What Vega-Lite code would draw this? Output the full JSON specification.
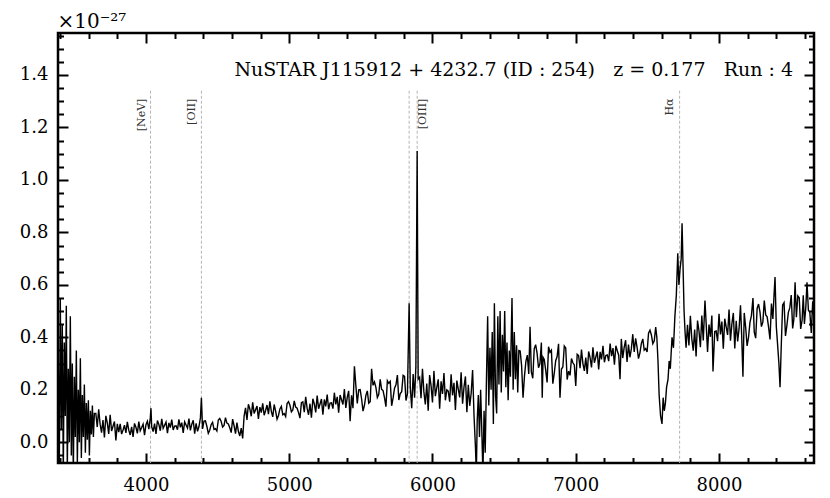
{
  "$schema": "https://vega.github.io/schema/vega-lite/v6.json",
  "autosize": {"type": "none"},
  "padding": {"left": 58, "top": 33, "right": 16, "bottom": 35},
  "width": 756,
  "height": 430,
  "config": {
    "view": {"stroke": "black", "strokeWidth": 2.5},
    "font": "DejaVu Serif"
  },
  "title": {
    "text": "NuSTAR J115912 + 4232.7 (ID : 254)\u00a0\u00a0\u00a0z = 0.177\u00a0\u00a0\u00a0Run : 4",
    "anchor": "end",
    "frame": "group",
    "orient": "top",
    "baseline": "alphabetic",
    "offset": 0,
    "dx": -21,
    "dy": 84,
    "font": "DejaVu Serif",
    "fontSize": 19,
    "fontWeight": "normal",
    "color": "black"
  },
  "datasets": {
    "spec": [
      {"w":3388,"f":0.30},{"w":3395,"f":-0.10},{"w":3402,"f":0.55},{"w":3409,"f":0.05},{"w":3416,"f":0.45},{"w":3423,"f":-0.12},{"w":3430,"f":0.38},{"w":3437,"f":0.10},{"w":3444,"f":0.52},{"w":3451,"f":-0.10},
      {"w":3458,"f":0.28},{"w":3465,"f":0.00},{"w":3472,"f":0.48},{"w":3479,"f":-0.05},{"w":3486,"f":0.30},{"w":3493,"f":-0.12},{"w":3500,"f":0.25},{"w":3507,"f":0.02},{"w":3514,"f":0.35},{"w":3521,"f":-0.08},
      {"w":3528,"f":0.20},{"w":3535,"f":0.00},{"w":3542,"f":0.32},{"w":3549,"f":-0.06},{"w":3556,"f":0.18},{"w":3563,"f":0.02},{"w":3570,"f":0.22},{"w":3577,"f":-0.04},{"w":3584,"f":0.15},{"w":3591,"f":0.01},
      {"w":3598,"f":0.16},{"w":3605,"f":-0.05},{"w":3612,"f":0.12},{"w":3619,"f":0.03},{"w":3626,"f":0.14},{"w":3633,"f":0.02},{"w":3640,"f":0.11},
      {"w":3650,"f":0.110},{"w":3660,"f":0.058},{"w":3670,"f":0.126},{"w":3680,"f":0.069},{"w":3690,"f":0.037},{"w":3700,"f":0.085},{"w":3710,"f":0.018},{"w":3720,"f":0.101},{"w":3730,"f":0.074},{"w":3740,"f":0.032},
      {"w":3750,"f":0.105},{"w":3760,"f":0.043},{"w":3770,"f":0.061},{"w":3780,"f":0.079},{"w":3790,"f":0.007},{"w":3800,"f":0.070},{"w":3810,"f":0.039},{"w":3820,"f":0.070},{"w":3830,"f":0.031},{"w":3840,"f":0.047},
      {"w":3850,"f":0.065},{"w":3860,"f":0.036},{"w":3870,"f":0.078},{"w":3880,"f":0.046},{"w":3890,"f":0.028},{"w":3900,"f":0.059},{"w":3910,"f":0.020},{"w":3920,"f":0.072},{"w":3930,"f":0.057},{"w":3940,"f":0.034},
      {"w":3950,"f":0.079},{"w":3960,"f":0.044},{"w":3970,"f":0.056},{"w":3980,"f":0.069},{"w":3990,"f":0.027},{"w":4000,"f":0.067},{"w":4010,"f":0.080},{"w":4020,"f":0.050},{"w":4030,"f":0.092},{"w":4035,"f":0.130},
      {"w":4040,"f":0.059},{"w":4050,"f":0.041},{"w":4060,"f":0.071},{"w":4070,"f":0.032},{"w":4080,"f":0.083},{"w":4090,"f":0.068},{"w":4100,"f":0.044},{"w":4110,"f":0.089},{"w":4120,"f":0.053},{"w":4130,"f":0.065},
      {"w":4140,"f":0.077},{"w":4150,"f":0.035},{"w":4160,"f":0.074},{"w":4170,"f":0.056},{"w":4180,"f":0.086},{"w":4190,"f":0.047},{"w":4200,"f":0.062},{"w":4210,"f":0.063},{"w":4220,"f":0.048},{"w":4230,"f":0.087},
      {"w":4240,"f":0.057},{"w":4250,"f":0.075},{"w":4260,"f":0.036},{"w":4270,"f":0.078},{"w":4280,"f":0.066},{"w":4290,"f":0.054},{"w":4300,"f":0.090},{"w":4310,"f":0.045},{"w":4320,"f":0.069},{"w":4330,"f":0.084},
      {"w":4340,"f":0.033},{"w":4350,"f":0.072},{"w":4360,"f":0.042},{"w":4370,"f":0.060},{"w":4380,"f":0.093},{"w":4387,"f":0.170},{"w":4395,"f":0.051},{"w":4405,"f":0.081},{"w":4415,"f":0.082},{"w":4425,"f":0.061},
      {"w":4435,"f":0.034},{"w":4445,"f":0.046},{"w":4455,"f":0.067},{"w":4465,"f":0.076},{"w":4475,"f":0.049},{"w":4485,"f":0.052},{"w":4495,"f":0.043},{"w":4505,"f":0.085},{"w":4515,"f":0.091},{"w":4525,"f":0.079},
      {"w":4535,"f":0.058},{"w":4545,"f":0.064},{"w":4555,"f":0.094},{"w":4565,"f":0.073},{"w":4575,"f":0.070},{"w":4585,"f":0.055},{"w":4595,"f":0.037},{"w":4605,"f":0.088},{"w":4615,"f":0.063},{"w":4625,"f":0.033},
      {"w":4635,"f":0.075},{"w":4645,"f":0.042},{"w":4655,"f":0.024},{"w":4665,"f":0.054},{"w":4675,"f":0.015},{"w":4685,"f":0.100},{"w":4695,"f":0.131},{"w":4705,"f":0.085},{"w":4715,"f":0.145},{"w":4725,"f":0.127},
      {"w":4735,"f":0.099},{"w":4745,"f":0.152},{"w":4755,"f":0.110},{"w":4765,"f":0.124},{"w":4775,"f":0.138},{"w":4785,"f":0.089},{"w":4795,"f":0.134},{"w":4805,"f":0.113},{"w":4815,"f":0.148},{"w":4825,"f":0.103},
      {"w":4835,"f":0.121},{"w":4845,"f":0.142},{"w":4855,"f":0.107},{"w":4865,"f":0.156},{"w":4875,"f":0.118},{"w":4885,"f":0.097},{"w":4895,"f":0.144},{"w":4905,"f":0.119},{"w":4915,"f":0.088},{"w":4925,"f":0.102},
      {"w":4935,"f":0.127},{"w":4945,"f":0.137},{"w":4955,"f":0.105},{"w":4965,"f":0.109},{"w":4975,"f":0.098},{"w":4985,"f":0.148},{"w":4995,"f":0.155},{"w":5005,"f":0.141},{"w":5015,"f":0.116},{"w":5025,"f":0.123},
      {"w":5035,"f":0.158},{"w":5045,"f":0.134},{"w":5055,"f":0.130},{"w":5065,"f":0.113},{"w":5075,"f":0.092},{"w":5085,"f":0.151},{"w":5095,"f":0.154},{"w":5105,"f":0.115},{"w":5115,"f":0.173},{"w":5125,"f":0.129},
      {"w":5135,"f":0.105},{"w":5145,"f":0.147},{"w":5155,"f":0.094},{"w":5165,"f":0.166},{"w":5175,"f":0.146},{"w":5185,"f":0.114},{"w":5195,"f":0.178},{"w":5205,"f":0.128},{"w":5215,"f":0.146},{"w":5225,"f":0.165},
      {"w":5235,"f":0.105},{"w":5245,"f":0.163},{"w":5255,"f":0.137},{"w":5265,"f":0.182},{"w":5275,"f":0.126},{"w":5285,"f":0.149},{"w":5295,"f":0.150},{"w":5305,"f":0.128},{"w":5315,"f":0.189},{"w":5325,"f":0.144},
      {"w":5335,"f":0.173},{"w":5345,"f":0.113},{"w":5355,"f":0.180},{"w":5365,"f":0.162},{"w":5375,"f":0.144},{"w":5385,"f":0.203},{"w":5395,"f":0.131},{"w":5405,"f":0.171},{"w":5415,"f":0.196},{"w":5425,"f":0.080},
      {"w":5435,"f":0.179},{"w":5445,"f":0.130},{"w":5455,"f":0.290},{"w":5465,"f":0.217},{"w":5475,"f":0.148},{"w":5485,"f":0.200},{"w":5495,"f":0.201},{"w":5505,"f":0.166},{"w":5515,"f":0.119},{"w":5525,"f":0.141},
      {"w":5535,"f":0.179},{"w":5545,"f":0.196},{"w":5555,"f":0.149},{"w":5565,"f":0.155},{"w":5575,"f":0.280},{"w":5585,"f":0.217},{"w":5595,"f":0.230},{"w":5605,"f":0.209},{"w":5615,"f":0.171},{"w":5625,"f":0.183},
      {"w":5635,"f":0.240},{"w":5645,"f":0.202},{"w":5655,"f":0.197},{"w":5665,"f":0.170},{"w":5675,"f":0.136},{"w":5685,"f":0.235},{"w":5695,"f":0.225},{"w":5705,"f":0.232},{"w":5715,"f":0.139},{"w":5725,"f":0.169},
      {"w":5735,"f":0.206},{"w":5745,"f":0.219},{"w":5755,"f":0.256},{"w":5765,"f":0.161},{"w":5775,"f":0.186},{"w":5785,"f":0.193},{"w":5795,"f":0.255},{"w":5805,"f":0.251},{"w":5815,"f":0.159},{"w":5825,"f":0.184},
      {"w":5837,"f":0.530},{"w":5845,"f":0.210},{"w":5855,"f":0.130},{"w":5865,"f":0.260},{"w":5875,"f":0.170},{"w":5884,"f":0.290},{"w":5893,"f":1.110},{"w":5900,"f":0.240},{"w":5910,"f":0.248},{"w":5920,"f":0.168},
      {"w":5930,"f":0.280},{"w":5940,"f":0.192},{"w":5950,"f":0.144},{"w":5960,"f":0.224},{"w":5970,"f":0.120},{"w":5980,"f":0.256},{"w":5990,"f":0.216},{"w":6000,"f":0.152},{"w":6010,"f":0.272},{"w":6020,"f":0.176},
      {"w":6030,"f":0.208},{"w":6040,"f":0.240},{"w":6050,"f":0.128},{"w":6060,"f":0.232},{"w":6070,"f":0.184},{"w":6080,"f":0.264},{"w":6090,"f":0.160},{"w":6100,"f":0.200},{"w":6110,"f":0.195},{"w":6120,"f":0.155},
      {"w":6130,"f":0.259},{"w":6140,"f":0.179},{"w":6150,"f":0.227},{"w":6160,"f":0.123},{"w":6170,"f":0.235},{"w":6180,"f":0.203},{"w":6190,"f":0.171},{"w":6200,"f":0.267},{"w":6210,"f":0.147},{"w":6220,"f":0.211},
      {"w":6230,"f":0.251},{"w":6240,"f":0.115},{"w":6250,"f":0.219},{"w":6260,"f":0.139},{"w":6270,"f":0.187},{"w":6280,"f":0.275},{"w":6290,"f":0.100},{"w":6300,"f":-0.020},{"w":6306,"f":-0.120},{"w":6312,"f":0.080},
      {"w":6320,"f":0.180},{"w":6328,"f":0.020},{"w":6336,"f":0.200},{"w":6344,"f":0.050},{"w":6352,"f":-0.120},{"w":6360,"f":0.120},{"w":6368,"f":-0.040},{"w":6376,"f":0.220},{"w":6385,"f":0.480},{"w":6393,"f":0.140},
      {"w":6401,"f":0.360},{"w":6409,"f":0.200},{"w":6417,"f":0.420},{"w":6425,"f":0.070},{"w":6432,"f":0.530},{"w":6440,"f":0.180},{"w":6448,"f":0.110},{"w":6456,"f":0.480},{"w":6464,"f":0.220},{"w":6472,"f":0.500},
      {"w":6480,"f":0.190},{"w":6488,"f":0.410},{"w":6496,"f":0.270},{"w":6504,"f":0.500},{"w":6512,"f":0.210},{"w":6520,"f":0.380},{"w":6528,"f":0.160},{"w":6536,"f":0.350},{"w":6544,"f":0.250},{"w":6555,"f":0.550},
      {"w":6563,"f":0.200},{"w":6571,"f":0.420},{"w":6579,"f":0.240},{"w":6587,"f":0.370},{"w":6595,"f":0.190},{"w":6603,"f":0.350},{"w":6612,"f":0.348},{"w":6622,"f":0.292},{"w":6632,"f":0.170},{"w":6642,"f":0.252},
      {"w":6652,"f":0.308},{"w":6662,"f":0.332},{"w":6672,"f":0.260},{"w":6681,"f":0.440},{"w":6690,"f":0.268},{"w":6700,"f":0.244},{"w":6710,"f":0.356},{"w":6720,"f":0.372},{"w":6730,"f":0.340},{"w":6740,"f":0.284},
      {"w":6750,"f":0.300},{"w":6760,"f":0.380},{"w":6766,"f":0.170},{"w":6772,"f":0.324},{"w":6780,"f":0.316},{"w":6790,"f":0.276},{"w":6800,"f":0.228},{"w":6810,"f":0.364},{"w":6820,"f":0.343},{"w":6830,"f":0.351},
      {"w":6840,"f":0.223},{"w":6850,"f":0.263},{"w":6860,"f":0.311},{"w":6870,"f":0.327},{"w":6880,"f":0.375},{"w":6890,"f":0.170},{"w":6900,"f":0.279},{"w":6910,"f":0.287},{"w":6920,"f":0.367},{"w":6930,"f":0.359},
      {"w":6940,"f":0.239},{"w":6950,"f":0.271},{"w":6960,"f":0.255},{"w":6970,"f":0.319},{"w":6980,"f":0.303},{"w":6990,"f":0.295},{"w":7000,"f":0.215},{"w":7010,"f":0.335},{"w":7020,"f":0.330},{"w":7030,"f":0.282},
      {"w":7040,"f":0.353},{"w":7050,"f":0.300},{"w":7060,"f":0.272},{"w":7070,"f":0.323},{"w":7080,"f":0.260},{"w":7090,"f":0.346},{"w":7100,"f":0.323},{"w":7110,"f":0.285},{"w":7120,"f":0.362},{"w":7130,"f":0.303},
      {"w":7140,"f":0.325},{"w":7150,"f":0.346},{"w":7160,"f":0.278},{"w":7170,"f":0.345},{"w":7180,"f":0.316},{"w":7190,"f":0.368},{"w":7200,"f":0.305},{"w":7210,"f":0.331},{"w":7220,"f":0.333},{"w":7230,"f":0.309},
      {"w":7240,"f":0.376},{"w":7250,"f":0.328},{"w":7260,"f":0.359},{"w":7270,"f":0.296},{"w":7280,"f":0.368},{"w":7290,"f":0.349},{"w":7300,"f":0.331},{"w":7309,"f":0.240},{"w":7318,"f":0.394},{"w":7328,"f":0.321},
      {"w":7338,"f":0.362},{"w":7348,"f":0.389},{"w":7358,"f":0.306},{"w":7368,"f":0.372},{"w":7378,"f":0.324},{"w":7388,"f":0.356},{"w":7398,"f":0.412},{"w":7408,"f":0.344},{"w":7418,"f":0.396},{"w":7428,"f":0.362},
      {"w":7438,"f":0.319},{"w":7448,"f":0.341},{"w":7458,"f":0.377},{"w":7468,"f":0.394},{"w":7478,"f":0.351},{"w":7488,"f":0.357},{"w":7498,"f":0.344},{"w":7508,"f":0.416},{"w":7518,"f":0.427},{"w":7528,"f":0.409},
      {"w":7538,"f":0.376},{"w":7548,"f":0.387},{"w":7558,"f":0.439},{"w":7566,"f":0.400},{"w":7574,"f":0.310},{"w":7582,"f":0.180},{"w":7592,"f":0.100},{"w":7602,"f":0.070},{"w":7610,"f":0.170},{"w":7618,"f":0.120},
      {"w":7626,"f":0.150},{"w":7634,"f":0.210},{"w":7644,"f":0.240},{"w":7652,"f":0.310},{"w":7660,"f":0.280},{"w":7672,"f":0.400},{"w":7682,"f":0.360},{"w":7692,"f":0.480},{"w":7702,"f":0.560},{"w":7712,"f":0.720},
      {"w":7720,"f":0.600},{"w":7728,"f":0.660},{"w":7736,"f":0.700},{"w":7742,"f":0.835},{"w":7749,"f":0.670},{"w":7756,"f":0.500},{"w":7763,"f":0.420},{"w":7770,"f":0.360},{"w":7780,"f":0.448},{"w":7790,"f":0.369},
      {"w":7800,"f":0.482},{"w":7810,"f":0.395},{"w":7820,"f":0.349},{"w":7830,"f":0.430},{"w":7840,"f":0.327},{"w":7850,"f":0.464},{"w":7860,"f":0.425},{"w":7870,"f":0.362},{"w":7880,"f":0.483},{"w":7890,"f":0.388},
      {"w":7902,"f":0.540},{"w":7910,"f":0.455},{"w":7920,"f":0.344},{"w":7930,"f":0.449},{"w":7940,"f":0.402},{"w":7950,"f":0.483},{"w":7958,"f":0.270},{"w":7970,"f":0.422},{"w":7980,"f":0.424},{"w":7990,"f":0.385},
      {"w":8000,"f":0.490},{"w":8010,"f":0.411},{"w":8020,"f":0.460},{"w":8030,"f":0.357},{"w":8040,"f":0.471},{"w":8050,"f":0.440},{"w":8060,"f":0.409},{"w":8070,"f":0.506},{"w":8080,"f":0.387},{"w":8090,"f":0.452},
      {"w":8100,"f":0.493},{"w":8110,"f":0.358},{"w":8120,"f":0.463},{"w":8130,"f":0.384},{"w":8140,"f":0.433},{"w":8150,"f":0.522},{"w":8158,"f":0.410},{"w":8167,"f":0.250},{"w":8176,"f":0.493},{"w":8186,"f":0.438},
      {"w":8196,"f":0.367},{"w":8206,"f":0.400},{"w":8216,"f":0.457},{"w":8226,"f":0.482},{"w":8237,"f":0.550},{"w":8246,"f":0.420},{"w":8256,"f":0.397},{"w":8266,"f":0.510},{"w":8276,"f":0.527},{"w":8286,"f":0.496},
      {"w":8296,"f":0.441},{"w":8306,"f":0.458},{"w":8316,"f":0.540},{"w":8326,"f":0.485},{"w":8336,"f":0.478},{"w":8346,"f":0.439},{"w":8356,"f":0.392},{"w":8366,"f":0.529},{"w":8376,"f":0.470},{"w":8384,"f":0.560},
      {"w":8391,"f":0.630},{"w":8400,"f":0.440},{"w":8408,"f":0.380},{"w":8418,"f":0.300},{"w":8426,"f":0.210},{"w":8434,"f":0.360},{"w":8444,"f":0.523},{"w":8454,"f":0.532},{"w":8464,"f":0.405},{"w":8474,"f":0.446},
      {"w":8484,"f":0.495},{"w":8494,"f":0.512},{"w":8504,"f":0.561},{"w":8514,"f":0.434},{"w":8522,"f":0.467},{"w":8531,"f":0.610},{"w":8540,"f":0.477},{"w":8550,"f":0.558},{"w":8560,"f":0.551},{"w":8570,"f":0.432},
      {"w":8580,"f":0.465},{"w":8588,"f":0.560},{"w":8596,"f":0.451},{"w":8606,"f":0.516},{"w":8614,"f":0.610},{"w":8624,"f":0.503},{"w":8634,"f":0.495},{"w":8644,"f":0.417},{"w":8654,"f":0.537},{"w":8663,"f":0.470}
    ],
    "lines": [
      {"w": 4032, "lx": 3972, "name": "[NeV]"},
      {"w": 4387, "lx": 4321, "name": "[OII]"},
      {"w": 5837, "lx": 5934, "name": ""},
      {"w": 5893, "lx": 5934, "name": "[OIII]"},
      {"w": 7725, "lx": 7658, "name": "Hα"}
    ]
  },
  "layer": [
    {
      "data": {"name": "lines"},
      "mark": {"type": "rule", "color": "#b4b4b4", "strokeWidth": 1, "strokeDash": [3, 2]},
      "encoding": {
        "x": {
          "field": "w", "type": "quantitative",
          "scale": {"domain": [3386, 8663], "nice": false, "zero": false},
          "axis": {
            "orient": "bottom",
            "values": [3400,3600,3800,4000,4200,4400,4600,4800,5000,5200,5400,5600,5800,6000,6200,6400,6600,6800,7000,7200,7400,7600,7800,8000,8200,8400,8600],
            "format": "d",
            "labelExpr": "datum.value % 1000 === 0 ? datum.label : ''",
            "labelOverlap": false,
            "labelFlush": false,
            "tickSize": {"condition": {"test": "datum.value % 1000 === 0", "value": -10}, "value": -5.5},
            "tickWidth": 2,
            "tickColor": "black",
            "domain": false,
            "grid": false,
            "labelFont": "DejaVu Serif",
            "labelFontSize": 18,
            "labelColor": "black",
            "labelPadding": 23,
            "title": null
          }
        },
        "y": {
          "datum": 1.34, "type": "quantitative",
          "scale": {"domain": [-0.079, 1.56], "nice": false, "zero": false},
          "axis": {
            "orient": "left",
            "values": [-0.05,0,0.05,0.1,0.15,0.2,0.25,0.3,0.35,0.4,0.45,0.5,0.55,0.6,0.65,0.7,0.75,0.8,0.85,0.9,0.95,1.0,1.05,1.1,1.15,1.2,1.25,1.3,1.35,1.4,1.45,1.5,1.55],
            "format": ".1f",
            "labelExpr": "abs(datum.value * 5 - round(datum.value * 5)) < 0.001 ? datum.label : ''",
            "labelOverlap": false,
            "labelFlush": false,
            "tickSize": {"condition": {"test": "abs(datum.value * 5 - round(datum.value * 5)) < 0.001", "value": -10}, "value": -5.5},
            "tickWidth": 2,
            "tickColor": "black",
            "domain": false,
            "grid": false,
            "labelFont": "DejaVu Serif",
            "labelFontSize": 18,
            "labelColor": "black",
            "labelPadding": 20,
            "title": "×10⁻²⁷",
            "titleAngle": 0,
            "titleAlign": "left",
            "titleBaseline": "alphabetic",
            "titleX": -1,
            "titleY": -6,
            "titleFont": "DejaVu Serif",
            "titleFontSize": 20,
            "titleFontWeight": "normal",
            "titleColor": "black"
          }
        },
        "y2": {"datum": -0.079}
      }
    },
    {
      "data": {"name": "spec"},
      "mark": {"type": "line", "color": "black", "strokeWidth": 1.4, "clip": true},
      "encoding": {
        "x": {
          "field": "w", "type": "quantitative",
          "scale": {"domain": [3386, 8663], "nice": false, "zero": false},
          "axis": {
            "orient": "top",
            "values": [3400,3600,3800,4000,4200,4400,4600,4800,5000,5200,5400,5600,5800,6000,6200,6400,6600,6800,7000,7200,7400,7600,7800,8000,8200,8400,8600],
            "labels": false,
            "tickSize": {"condition": {"test": "datum.value % 1000 === 0", "value": -10}, "value": -5.5},
            "tickWidth": 2,
            "tickColor": "black",
            "domain": false,
            "grid": false,
            "title": null
          }
        },
        "y": {
          "field": "f", "type": "quantitative",
          "scale": {"domain": [-0.079, 1.56], "nice": false, "zero": false},
          "axis": {
            "orient": "right",
            "values": [-0.05,0,0.05,0.1,0.15,0.2,0.25,0.3,0.35,0.4,0.45,0.5,0.55,0.6,0.65,0.7,0.75,0.8,0.85,0.9,0.95,1.0,1.05,1.1,1.15,1.2,1.25,1.3,1.35,1.4,1.45,1.5,1.55],
            "labels": false,
            "tickSize": {"condition": {"test": "abs(datum.value * 5 - round(datum.value * 5)) < 0.001", "value": -10}, "value": -5.5},
            "tickWidth": 2,
            "tickColor": "black",
            "domain": false,
            "grid": false,
            "title": null
          }
        }
      }
    },
    {
      "mark": {"type": "rule", "color": "#7a7a7a", "strokeWidth": 2, "strokeDash": [14, 8]},
      "encoding": {
        "y": {"datum": 0, "type": "quantitative", "scale": {"domain": [-0.079, 1.56], "nice": false, "zero": false}, "axis": null}
      }
    },
    {
      "data": {"name": "lines"},
      "mark": {"type": "text", "angle": 270, "align": "right", "baseline": "middle", "font": "DejaVu Serif", "fontSize": 11, "color": "#333333"},
      "encoding": {
        "x": {"field": "lx", "type": "quantitative", "scale": {"domain": [3386, 8663], "nice": false, "zero": false}, "axis": null},
        "y": {"datum": 1.31, "type": "quantitative", "scale": {"domain": [-0.079, 1.56], "nice": false, "zero": false}, "axis": null},
        "text": {"field": "name"}
      }
    }
  ],
  "resolve": {"axis": {"x": "independent", "y": "independent"}}
}
